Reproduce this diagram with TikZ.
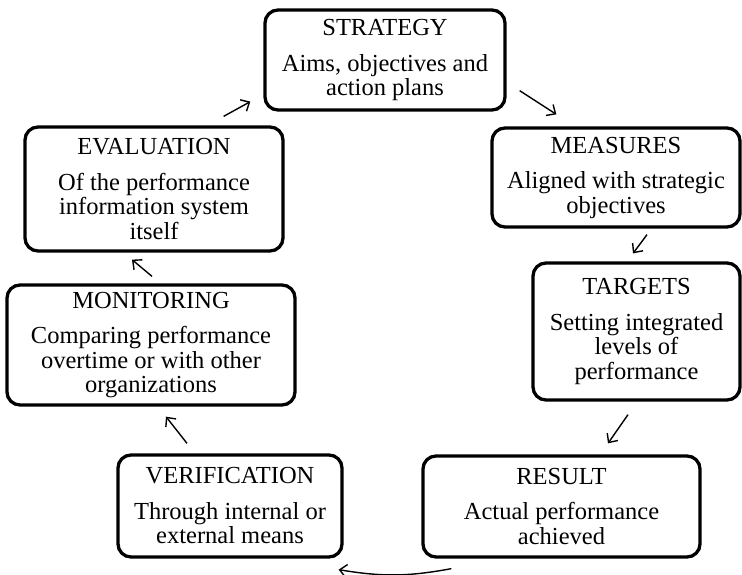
\documentclass[tikz,border=0pt]{standalone}
\usepackage{fontspec}
\setmainfont{Liberation Serif}
\usepackage{tikz}
\usetikzlibrary{arrows.meta,calc}

\begin{document}
\begin{tikzpicture}[
  x=1pt,y=-1pt,
  font=\fontsize{24.5}{24.5}\selectfont,
  stage/.style={draw=black,line width=3.3pt,rounded corners=13pt,
                align=center,inner sep=2pt},
  flow/.style={-{Straight Barb[length=7pt,width=13pt]},line width=1.4pt},
]
\useasboundingbox (0,0) rectangle (742,575);

% the seven stages of the cycle
\node[stage,minimum width=240,minimum height=100] (strategy) at (385,60)
  {STRATEGY\\[11pt]Aims, objectives and\\action plans};
\node[stage,minimum width=248,minimum height=99] (measures) at (616,177.5)
  {MEASURES\\[11pt]Aligned with strategic\\objectives};
\node[stage,minimum width=207,minimum height=137] (targets) at (636.5,331.5)
  {TARGETS\\[11pt]Setting integrated\\levels of\\performance};
\node[stage,minimum width=277,minimum height=101] (result) at (561.5,506.5)
  {RESULT\\[11pt]Actual performance\\achieved};
\node[stage,minimum width=224,minimum height=102] (verification) at (230,506)
  {VERIFICATION\\[11pt]Through internal or\\external means};
\node[stage,minimum width=288,minimum height=120] (monitoring) at (151,345)
  {MONITORING\\[11pt]Comparing performance\\overtime or with other\\organizations};
\node[stage,minimum width=258,minimum height=124] (evaluation) at (154,189)
  {EVALUATION\\[11pt]Of the performance\\information system\\itself};

% arrows round the cycle
\draw[flow] ($(strategy.south east)+(13,-21)$) -- ($(measures.north west)+(66,-12)$);
\draw[flow] ($(measures.south)+(31,6)$) -- ($(targets.north)+(-3.5,-8)$);
\draw[flow] ($(targets.south)+(-8.5,13)$) -- ($(result.north)+(46.5,-11)$);
\draw[flow] ($(result.south west)+(30,10)$) to[bend left=10]
  ($(verification.south east)+(-5,11)$);
\draw[flow] ($(verification.north)+(-43,-10)$) -- ($(monitoring.south)+(15,10)$);
\draw[flow] ($(monitoring.north)+(1,-7)$) -- ($(evaluation.south)+(-22,7)$);
\draw[flow] ($(evaluation.north east)+(-61,-9)$) -- ($(strategy.south west)+(-13,-10)$);

\end{tikzpicture}
\end{document}
